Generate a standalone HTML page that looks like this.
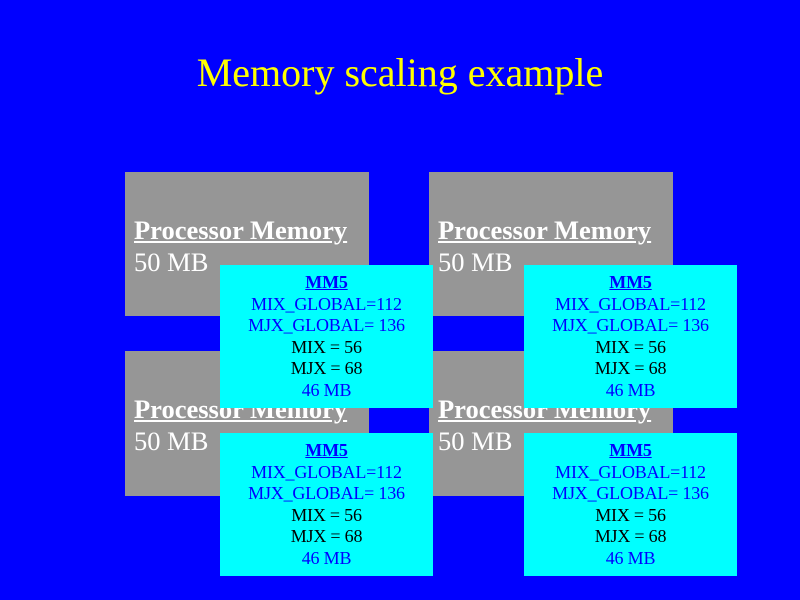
<!DOCTYPE html>
<html><head><style>
body{margin:0;width:800px;height:600px;background:#0000ff;position:relative;overflow:hidden;font-family:"Liberation Serif",serif}
.a{position:absolute}
.g{background:#969696}
.c{background:#00ffff;text-align:center;font-size:18px;line-height:21.5px;padding-top:7px;box-sizing:border-box;letter-spacing:-0.2px}
.pm{position:absolute;left:9px;color:#fff;font-size:26.5px;white-space:nowrap}
.b{color:#0000ff}.k{color:#000}
</style></head><body>
<div class="a" style="left:0;width:800px;top:49px;text-align:center;color:#ffff00;font-size:40px">Memory scaling example</div>

<div class="a g" style="left:125px;top:172px;width:244px;height:144px"><div class="pm" style="top:43px;font-weight:bold;text-decoration:underline">Processor Memory</div><div class="pm" style="top:75px">50 MB</div></div>
<div class="a g" style="left:429px;top:172px;width:244px;height:144px"><div class="pm" style="top:43px;font-weight:bold;text-decoration:underline">Processor Memory</div><div class="pm" style="top:75px">50 MB</div></div>
<div class="a g" style="left:125px;top:351px;width:244px;height:145px"><div class="pm" style="top:43px;font-weight:bold;text-decoration:underline">Processor Memory</div><div class="pm" style="top:75px">50 MB</div></div>
<div class="a g" style="left:429px;top:351px;width:244px;height:145px"><div class="pm" style="top:43px;font-weight:bold;text-decoration:underline">Processor Memory</div><div class="pm" style="top:75px">50 MB</div></div>

<div class="a c" style="left:220px;top:265px;width:213px;height:143px"><div class="b" style="font-weight:bold;text-decoration:underline">MM5</div><div class="b">MIX_GLOBAL=112</div><div class="b">MJX_GLOBAL= 136</div><div class="k">MIX = 56</div><div class="k">MJX = 68</div><div class="b">46 MB</div></div>
<div class="a c" style="left:524px;top:265px;width:213px;height:143px"><div class="b" style="font-weight:bold;text-decoration:underline">MM5</div><div class="b">MIX_GLOBAL=112</div><div class="b">MJX_GLOBAL= 136</div><div class="k">MIX = 56</div><div class="k">MJX = 68</div><div class="b">46 MB</div></div>
<div class="a c" style="left:220px;top:433px;width:213px;height:143px"><div class="b" style="font-weight:bold;text-decoration:underline">MM5</div><div class="b">MIX_GLOBAL=112</div><div class="b">MJX_GLOBAL= 136</div><div class="k">MIX = 56</div><div class="k">MJX = 68</div><div class="b">46 MB</div></div>
<div class="a c" style="left:524px;top:433px;width:213px;height:143px"><div class="b" style="font-weight:bold;text-decoration:underline">MM5</div><div class="b">MIX_GLOBAL=112</div><div class="b">MJX_GLOBAL= 136</div><div class="k">MIX = 56</div><div class="k">MJX = 68</div><div class="b">46 MB</div></div>
</body></html>
